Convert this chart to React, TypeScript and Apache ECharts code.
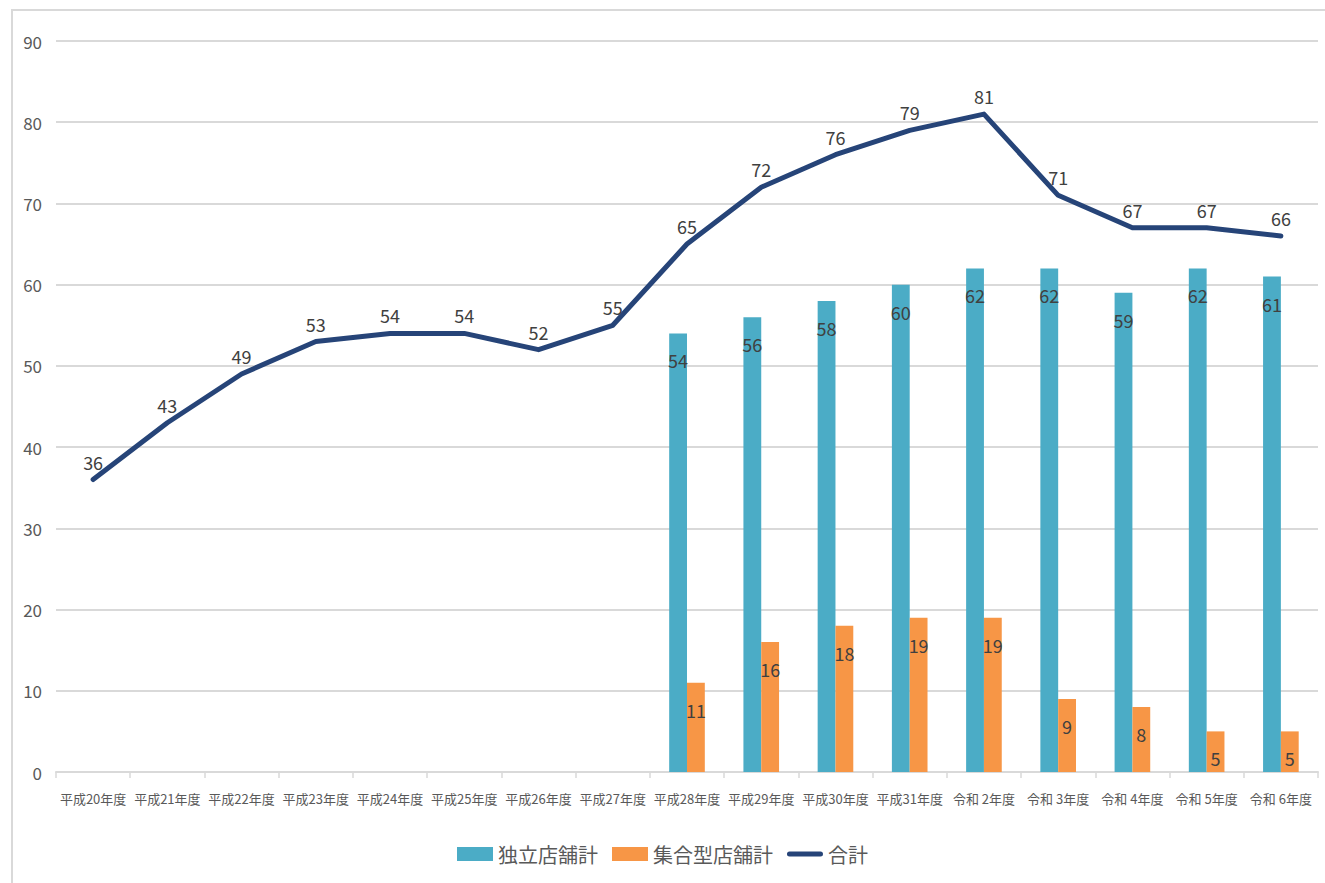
import React, { useEffect, useRef } from "react";
import * as echarts from "echarts";

const categories = [
  "平成20年度", "平成21年度", "平成22年度", "平成23年度", "平成24年度", "平成25年度",
  "平成26年度", "平成27年度", "平成28年度", "平成29年度", "平成30年度", "平成31年度",
  "令和 2年度", "令和 3年度", "令和 4年度", "令和 5年度", "令和 6年度",
];
const independent = [null, null, null, null, null, null, null, null, 54, 56, 58, 60, 62, 62, 59, 62, 61];
const collective = [null, null, null, null, null, null, null, null, 11, 16, 18, 19, 19, 9, 8, 5, 5];
const total = [36, 43, 49, 53, 54, 54, 52, 55, 65, 72, 76, 79, 81, 71, 67, 67, 66];
const seriesNames = ["独立店舗計", "集合型店舗計", "合計"];

const FONT = "'Noto Sans CJK JP', 'Noto Sans', sans-serif";

export default function App() {
  const ref = useRef<HTMLDivElement>(null);
  useEffect(() => {
    document.body.style.margin = "0";
    const chart = echarts.init(ref.current!, null, { renderer: "svg" });
    const barLabel = {
      show: true,
      position: "insideTop",
      distance: 18,
      color: "#404040",
      fontSize: 18,
      fontFamily: FONT,
    };
    chart.setOption({
      animation: false,
      textStyle: { fontFamily: FONT },
      graphic: [
        {
          type: "rect",
          shape: { x: 12, y: 10, width: 1400, height: 900 },
          style: { fill: "none", stroke: "#d9d9d9", lineWidth: 2 },
          silent: true,
        },
      ],
      grid: { left: 56, right: 7, top: 41, bottom: 111 },
      legend: {
        bottom: 14,
        left: "center",
        itemWidth: 36,
        itemHeight: 14,
        itemGap: 14,
        textStyle: { fontSize: 20, color: "#595959", fontFamily: FONT },
        data: [
          { name: seriesNames[0], icon: "rect" },
          { name: seriesNames[1], icon: "rect" },
          {
            name: seriesNames[2],
            icon: "path://M2.5,0 L33.5,0 A2.5,2.5 0 0 1 33.5,5 L2.5,5 A2.5,2.5 0 0 1 2.5,0 Z",
            itemStyle: { color: "#264478", opacity: 1 },
          },
        ],
      },
      xAxis: {
        type: "category",
        data: categories,
        axisLine: { lineStyle: { color: "#d9d9d9", width: 2 } },
        axisTick: { show: true, length: 6, lineStyle: { color: "#d9d9d9", width: 1.5 } },
        axisLabel: { color: "#595959", fontSize: 13, margin: 20, interval: 0, fontFamily: FONT },
      },
      yAxis: {
        type: "value",
        min: 0,
        max: 90,
        interval: 10,
        axisLine: { show: false },
        axisTick: { show: false },
        splitLine: { lineStyle: { color: "#d9d9d9", width: 2 } },
        axisLabel: { color: "#595959", fontSize: 17, margin: 14, fontFamily: FONT },
      },
      series: [
        {
          name: seriesNames[0],
          type: "bar",
          data: independent,
          barWidth: "24%",
          barGap: "0%",
          itemStyle: { color: "#4BACC6" },
          label: barLabel,
        },
        {
          name: seriesNames[1],
          type: "bar",
          data: collective,
          barWidth: "24%",
          barGap: "0%",
          itemStyle: { color: "#F79646" },
          label: barLabel,
        },
        {
          name: seriesNames[2],
          type: "line",
          data: total,
          symbol: "circle",
          symbolSize: 2,
          showSymbol: true,
          lineStyle: { color: "#264478", width: 5, cap: "round", join: "round" },
          itemStyle: { color: "#264478" },
          label: {
            show: true,
            position: "top",
            distance: 8,
            color: "#404040",
            fontSize: 18,
            fontFamily: FONT,
          },
          z: 5,
        },
      ],
    });
    return () => chart.dispose();
  }, []);
  return <div ref={ref} style={{ width: 1325, height: 883 }} />;
}
